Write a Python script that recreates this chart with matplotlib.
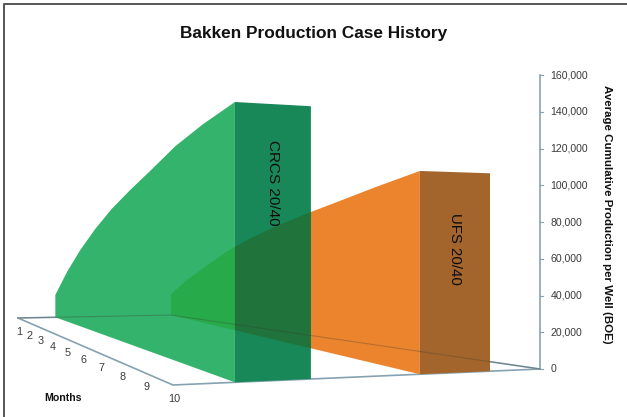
import numpy as np
import matplotlib
matplotlib.use('Agg')
import matplotlib.pyplot as plt
from matplotlib.patches import Polygon

plt.rcParams['font.family'] = ['Liberation Sans', 'DejaVu Sans']

months = [1, 2, 3, 4, 5, 6, 7, 8, 9, 10]
crcs = [18900, 40600, 59000, 74800, 88500, 99900, 110400, 121300, 129500, 136100]
ufs = [18500, 33700, 46500, 59000, 69200, 77600, 85200, 92100, 99100, 105600]
y_ticks = [0, 20000, 40000, 60000, 80000, 100000, 120000, 140000, 160000]

# floor corners in pixels, the chart is a fake 3D perspective
P00 = (18, 318)
P10 = (173, 385)
P11 = (540, 369)
P01 = (250, 313.5)


def homography():
    dx1, dx2 = P10[0] - P11[0], P01[0] - P11[0]
    dy1, dy2 = P10[1] - P11[1], P01[1] - P11[1]
    sx = P00[0] - P10[0] + P11[0] - P01[0]
    sy = P00[1] - P10[1] + P11[1] - P01[1]
    den = dx1 * dy2 - dx2 * dy1
    g = (sx * dy2 - dx2 * sy) / den
    h = (dx1 * sy - sx * dy1) / den
    return (P10[0] - P00[0] + g * P10[0], P01[0] - P00[0] + h * P01[0], P00[0],
            P10[1] - P00[1] + g * P10[1], P01[1] - P00[1] + h * P01[1], P00[1], g, h)


H = homography()
K = 294 / 160000 * (1 + H[6] + H[7])


def project(month, depth, value=0):
    u = (np.asarray(month, dtype=float) - 1) / 9
    w = 1 + H[6] * u + H[7] * depth
    x = (H[0] * u + H[1] * depth + H[2]) / w
    y = (H[3] * u + H[4] * depth + H[5]) / w
    return x, y - np.asarray(value) * K / w


def ribbon(vals, d):
    tx, ty = project(months, d, vals)
    bx, by = project(months, d)
    return np.column_stack([np.r_[tx, bx[::-1]], np.r_[ty, by[::-1]]])


def end_face(val, d0, d1):
    pts = [project(10, d0, val), project(10, d1, val), project(10, d1), project(10, d0)]
    return np.array(pts, dtype=float)


fig = plt.figure(figsize=(6.27, 4.17), dpi=100)
ax = fig.add_axes([0, 0, 1, 1])
ax.set_xlim(0, 627)
ax.set_ylim(417, 0)
ax.axis('off')

# frame
ax.plot([4, 4, 627], [417, 4, 4], color='#555555', lw=1.4)

D_G0, D_G1 = 0.1505, 0.3445
D_O0, D_O1 = 0.642, 0.847
FLOOR = '#86a2b2'

# floor
fx, fy = zip(project(1, 0), project(10, 0), project(10, 1))
ax.plot(fx, fy, color=FLOOR, lw=1.2, zorder=1)
bx, by = zip(project(1, 0), project(1, D_O0), project(10, 1))
ax.plot(bx, by, color=FLOOR, lw=1.2, zorder=1)

# ribbons
o_rib = ribbon(ufs, D_O0)
g_rib = ribbon(crcs, D_G0)
ax.add_patch(Polygon(o_rib, fc='#ec842e', ec='none', zorder=2))
ax.add_patch(Polygon(end_face(ufs[-1], D_O0, D_O1), fc='#a4652c', ec='none', zorder=2))
g_p = Polygon(g_rib, fc='#33b36b', ec='none', zorder=3)
g_f = Polygon(end_face(crcs[-1], D_G0, D_G1), fc='#188858', ec='none', zorder=3)
ax.add_patch(g_p)
ax.add_patch(g_f)

# where the orange ribbon shows through the green
o1 = Polygon(o_rib, fc='#27ab4a', ec='none', zorder=4)
ax.add_patch(o1)
o1.set_clip_path(g_p)
o2 = Polygon(o_rib, fc='#20733b', ec='none', zorder=4)
ax.add_patch(o2)
o2.set_clip_path(g_f)

# back floor edge seen through the ribbons
ax.plot(bx, by, color='#3a3a30', lw=0.8, alpha=0.3, zorder=5)

# value axis
ax_x, ax_y0 = project(10, 1, 0)
_, ax_y1 = project(10, 1, y_ticks[-1])
ax.plot([ax_x, ax_x], [ax_y0, ax_y1], color=FLOOR, lw=1.2, zorder=1)
for t in y_ticks:
    _, ty = project(10, 1, t)
    ax.plot([ax_x, ax_x + 3], [ty, ty], color=FLOOR, lw=0.8)
    ax.text(ax_x + 10.5, ty, f'{t:,}', fontsize=7.6, color='#3a3a3a', ha='left', va='center')

# month labels
for m in months:
    mx, my = project(m, 0)
    ax.text(mx + 1, my + 14, str(m), fontsize=7.8, color='#3a3a3a', ha='center', va='center')

ax.text(314, 33, 'Bakken Production Case History', fontsize=12.4, fontweight='bold',
        color='#111111', ha='center', va='center')
ax.text(63, 398, 'Months', fontsize=7.6, fontweight='bold', color='#111111', ha='center', va='center')
ax.text(607, 214, 'Average Cumulative Production per Well (BOE)', fontsize=8.25, fontweight='bold',
        color='#111111', rotation=-90, ha='center', va='center')
ax.text(273, 183, 'CRCS 20/40', fontsize=11, color='#0c0c0c', rotation=-90, ha='center', va='center', zorder=6)
ax.text(455, 249, 'UFS 20/40', fontsize=10.8, color='#0c0c0c', rotation=-90, ha='center', va='center', zorder=6)

fig.savefig('out.png', dpi=100)
